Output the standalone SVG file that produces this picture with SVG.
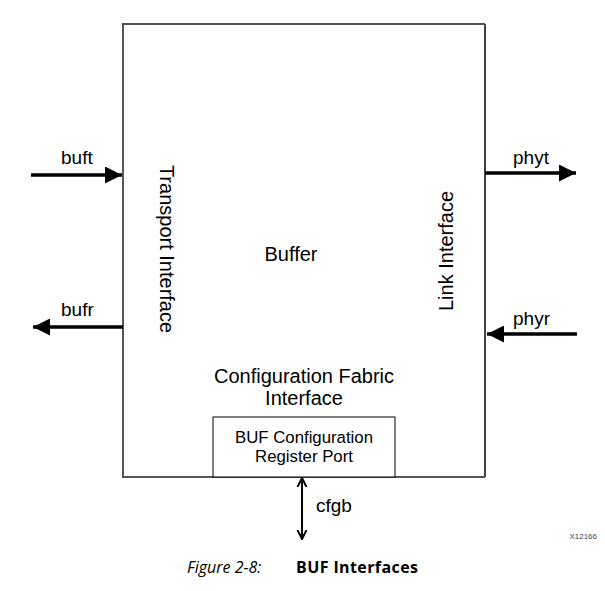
<svg xmlns="http://www.w3.org/2000/svg" width="605" height="591" viewBox="0 0 605 591">
  <style>
    .lbl { font-family: "Liberation Sans", Arial, sans-serif; font-size: 20px; fill: #000; }
    .sigtxt { font-family: "Liberation Sans", Arial, sans-serif; font-size: 19px; fill: #000; }
    .small { font-family: "Liberation Sans", Arial, sans-serif; font-size: 16.8px; fill: #000; }
    .sig { stroke: #000; stroke-width: 3.5; fill: none; }
    .cap { font-family: "Open Sans", "Noto Sans", sans-serif; font-size: 16px; fill: #000; }
  </style>
  <defs>
    <marker id="head" viewBox="0 0 10 10" refX="10" refY="5" markerUnits="userSpaceOnUse" markerWidth="22" markerHeight="17" orient="auto">
      <path d="M0,0 L10,5 L0,10 Z" fill="#000"/>
    </marker>
    <marker id="open" viewBox="0 0 10 10" refX="9" refY="5" markerUnits="userSpaceOnUse" markerWidth="10" markerHeight="14" orient="auto-start-reverse">
      <path d="M0,0.5 L9,5 L0,9.5" fill="none" stroke="#000" stroke-width="2"/>
    </marker>
  </defs>

  <rect width="605" height="591" fill="#fff"/>

  <!-- Buffer block -->
  <g id="buffer">
    <path d="M485,24 L485,477" stroke="#000" stroke-width="1.5" fill="none"/>
    <path d="M485,24 L123,24 L123,477 L485,477" stroke="#555" stroke-width="2" fill="none"/>
    <text class="lbl" x="291" y="261" text-anchor="middle">Buffer</text>
    <text class="lbl" transform="translate(159.5,249) rotate(90)" text-anchor="middle">Transport Interface</text>
    <text class="lbl" transform="translate(453,251) rotate(-90)" text-anchor="middle">Link Interface</text>
    <text class="lbl" x="304" y="383" text-anchor="middle">Configuration Fabric</text>
    <text class="lbl" x="304" y="405" text-anchor="middle">Interface</text>
  </g>

  <!-- Configuration register port -->
  <g id="cfg-port">
    <rect x="213" y="417" width="182" height="60" fill="#fff" stroke="#000" stroke-width="1"/>
    <text class="small" x="304" y="442.5" text-anchor="middle">BUF Configuration</text>
    <text class="small" x="304" y="462" text-anchor="middle">Register Port</text>
  </g>

  <!-- Signals -->
  <g id="connectors">
    <line class="sig" x1="31" y1="175" x2="122" y2="175" marker-end="url(#head)"/>
    <line class="sig" x1="123" y1="327" x2="33" y2="327" marker-end="url(#head)"/>
    <line class="sig" x1="485" y1="173" x2="576" y2="173" marker-end="url(#head)"/>
    <line class="sig" x1="577" y1="334" x2="487" y2="334" marker-end="url(#head)"/>
    <line x1="302" y1="478" x2="302" y2="539" stroke="#000" stroke-width="2" marker-start="url(#open)" marker-end="url(#open)"/>
  </g>

  <g id="signal-labels">
    <text class="sigtxt" x="61" y="164">buft</text>
    <text class="sigtxt" x="61" y="316">bufr</text>
    <text class="sigtxt" x="513" y="164">phyt</text>
    <text class="sigtxt" x="513" y="325">phyr</text>
    <text class="sigtxt" x="316" y="512">cfgb</text>
  </g>

  <text x="597" y="539" text-anchor="end" font-family="Liberation Sans, Arial, sans-serif" font-size="8" fill="#444">X12166</text>

  <text class="cap" x="187" y="573"><tspan font-style="italic">Figure 2-8:</tspan><tspan x="296" font-weight="bold" letter-spacing="0.4">BUF Interfaces</tspan></text>
</svg>
